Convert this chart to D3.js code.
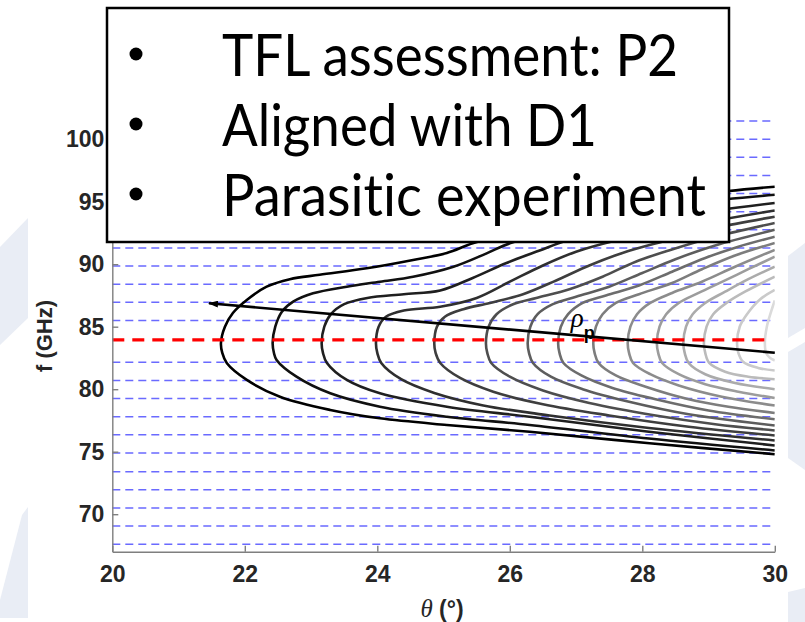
<!DOCTYPE html>
<html>
<head>
<meta charset="utf-8">
<script src="https://cdn.jsdelivr.net/npm/d3@7"></script>
<style>
  html, body { margin: 0; padding: 0; background: #fff; }
  svg { display: block; }
  text { font-variant-ligatures: none; font-feature-settings: "liga" 0; }
</style>
</head>
<body>
<script>
// frequencies of the blue dashed grid (GHz)
const gridFreqs = [67.6, 69.05, 70.5, 71.95, 73.4, 74.9, 76.35, 77.8, 79.25, 80.7, 82.15,
  85.5, 86.95, 88.4, 89.85, 91.3, 92.75, 94.2, 95.65, 97.1, 98.55, 100.0, 101.45];
// operating frequency (red dashed)
const opFreq = 83.95;
// rho_p direction, [theta, f] from start to arrow tip
const rhoLine = [[30, 82.92], [21.46, 86.87]];
const rhoLabel = [26.92, 84.98];

const xTicks = [20, 22, 24, 26, 28, 30];
const yTicks = [70, 75, 80, 85, 90, 95, 100];
const bullets = ["TFL assessment: P2", "Aligned with D1", "Parasitic experiment"];

// contour lines, upper branch (starting at the nose) and lower branch, [theta, f]
const contourUpper = [
  [[21.64,83.7],[21.7,85.0],[21.82,86.1],[22.03,87.14],[22.33,88.2],[22.68,88.8],[23.13,89.15],[23.84,89.67],[24.54,90.34],[25.05,90.9],[25.44,91.67],[26.2,92.8],[27.2,94.0],[28.3,95.1],[29.3,95.85],[30,96.2]],
  [[22.42,83.7],[22.46,85.0],[22.56,86.2],[22.73,87.0],[23.03,87.67],[23.54,88.2],[24.04,88.6],[24.54,89.0],[25.15,89.8],[25.65,90.87],[26.0,91.67],[26.8,92.8],[27.8,93.9],[28.8,94.9],[30,95.55]],
  [[23.16,83.7],[23.2,85.0],[23.3,86.0],[23.5,86.8],[23.85,87.3],[24.4,87.6],[24.95,87.9],[25.44,88.9],[25.95,90.1],[26.45,91.1],[26.86,91.9],[27.6,92.9],[28.6,93.9],[30,94.9]],
  [[23.98,83.7],[24.02,85.0],[24.13,85.8],[24.4,86.3],[24.95,86.6],[25.5,87.3],[26.0,88.6],[26.5,89.9],[27.0,91.0],[27.6,91.9],[28.5,92.9],[30,94.3]],
  [[24.86,83.7],[24.9,85.0],[25.02,85.8],[25.3,86.4],[25.7,86.9],[26.2,87.6],[26.7,88.7],[27.2,89.9],[27.7,90.9],[28.3,91.8],[29.1,92.9],[30,93.8]],
  [[25.64,83.7],[25.68,85.0],[25.8,86.0],[26.05,86.8],[26.4,87.3],[26.9,88.0],[27.4,89.0],[27.9,90.2],[28.4,91.1],[29.1,92.2],[30,93.3]],
  [[26.27,83.7],[26.31,85.0],[26.42,86.0],[26.65,86.8],[27.0,87.4],[27.5,88.2],[28.0,89.3],[28.5,90.4],[29.1,91.5],[30,92.75]],
  [[26.73,83.7],[26.77,85.0],[26.88,86.0],[27.1,86.9],[27.45,87.5],[27.95,88.3],[28.45,89.4],[28.95,90.5],[29.45,91.4],[30,92.2]],
  [[27.26,83.7],[27.3,85.0],[27.4,86.0],[27.6,86.9],[27.95,87.6],[28.45,88.5],[28.9,89.6],[29.4,90.7],[30,91.7]],
  [[27.78,83.7],[27.82,85.0],[27.92,86.0],[28.12,86.9],[28.45,87.7],[28.9,88.6],[29.4,89.8],[30,91.15]],
  [[28.22,83.7],[28.26,85.0],[28.36,86.0],[28.55,86.9],[28.85,87.7],[29.25,88.7],[29.6,89.6],[30,90.6]],
  [[28.62,83.7],[28.66,85.0],[28.76,86.0],[28.95,86.9],[29.25,87.8],[29.6,88.8],[30,89.8]],
  [[28.93,83.7],[28.97,85.0],[29.07,86.0],[29.27,86.9],[29.55,87.8],[30,89.0]],
  [[29.43,83.7],[29.47,85.0],[29.58,86.0],[29.78,87.2],[30,87.95]],
  [[29.85,83.7],[29.88,85.0],[29.95,86.3],[30,87.1]]
];
const contourLower = [
  [[21.66,82.9],[21.73,82.07],[22.03,80.74],[22.53,79.4],[23.29,78.34],[24.04,77.67],[25.05,77.14],[26.3,76.6],[28.11,75.67],[30,74.8]],
  [[22.44,82.9],[22.48,82.34],[22.78,81.0],[23.29,79.67],[24.04,78.6],[25.05,77.8],[26.3,77.14],[28.1,76.05],[30,75.1]],
  [[23.18,82.9],[23.24,82.1],[23.54,80.74],[24.04,79.67],[25.05,78.6],[26.3,77.8],[28.1,76.6],[30,75.5]],
  [[24.0,82.9],[24.06,82.1],[24.36,80.8],[24.86,79.7],[25.6,78.7],[26.6,77.9],[28.1,76.9],[30,75.9]],
  [[24.88,82.9],[24.95,82.1],[25.25,80.9],[25.75,79.8],[26.5,78.8],[27.5,77.9],[28.7,77.0],[30,76.3]],
  [[25.66,82.9],[25.72,82.1],[26.0,81.0],[26.5,79.9],[27.2,78.9],[28.2,77.9],[29.1,77.2],[30,76.7]],
  [[26.29,82.9],[26.35,82.1],[26.62,81.0],[27.1,80.0],[27.8,79.0],[28.7,78.0],[30,77.1]],
  [[26.75,82.9],[26.81,82.1],[27.08,81.1],[27.55,80.1],[28.2,79.2],[29.0,78.3],[30,77.6]],
  [[27.28,82.9],[27.34,82.1],[27.6,81.1],[28.05,80.2],[28.7,79.2],[29.3,78.6],[30,78.1]],
  [[27.8,82.9],[27.86,82.1],[28.12,81.2],[28.55,80.3],[29.2,79.4],[30,78.7]],
  [[28.24,82.9],[28.3,82.1],[28.55,81.2],[28.95,80.4],[29.45,79.8],[30,79.3]],
  [[28.64,82.9],[28.7,82.1],[28.95,81.2],[29.4,80.5],[30,80.0]],
  [[28.95,82.9],[29.01,82.1],[29.25,81.4],[29.6,81.0],[30,80.8]],
  [[29.45,82.9],[29.52,82.2],[29.75,81.7],[30,81.5]],
  [[29.87,82.9],[29.93,82.5],[30,82.3]]
];

const W = 805, H = 622;

const svg = d3.select("body")
    .append("svg")
    .attr("width", W)
    .attr("height", H);

const x = d3.scaleLinear().domain([20, 30]).range([112.3, 774.8]);
const y = d3.scaleLinear().domain([67, 102]).range([551.7, 114.2]);

// faint slide watermark at the edges
const wm = [
  [[0, 247], [28, 218], [28, 318], [0, 345]],
  [[22, 515], [28, 507], [28, 618], [0, 618], [0, 600]],
  [[788, 256], [805, 243], [805, 328], [788, 338]],
  [[788, 352], [805, 342], [805, 470], [788, 458]],
  [[788, 592], [805, 588], [805, 622], [788, 622]]
];
svg.append("g").selectAll("polygon")
    .data(wm)
    .join("polygon")
    .attr("points", d => d.join(" "))
    .attr("fill", "#e9edf5");

const defs = svg.append("defs");
defs.append("clipPath").attr("id", "plot")
    .append("rect")
    .attr("x", x(20)).attr("y", y(102))
    .attr("width", x(30) - x(20)).attr("height", y(67) - y(102));

defs.append("marker")
    .attr("id", "arrow")
    .attr("markerUnits", "userSpaceOnUse")
    .attr("viewBox", "0 0 10 7")
    .attr("markerWidth", 10)
    .attr("markerHeight", 7)
    .attr("refX", 9)
    .attr("refY", 3.5)
    .attr("orient", "auto")
    .append("path")
    .attr("d", "M0,0 L10,3.5 L0,7 z")
    .attr("fill", "#000");

// blue dashed grid lines
svg.append("g").selectAll("line")
    .data(gridFreqs)
    .join("line")
    .attr("x1", x(20))
    .attr("x2", x(30))
    .attr("y1", d => y(d))
    .attr("y2", d => y(d))
    .attr("stroke", "#6a6aff")
    .attr("stroke-width", 1.5)
    .attr("stroke-dasharray", "8,5");

// contour curves, lightest first so the black one ends on top
const gray = d3.scaleLinear()
    .domain([0, contourUpper.length - 1])
    .range(["#000000", "#dadada"]);

const lineFunction = d3.line()
    .x(d => x(d[0]))
    .y(d => y(d[1]))
    .curve(d3.curveCatmullRom.alpha(0.5));

const cg = svg.append("g").attr("clip-path", "url(#plot)");
for (let i = contourUpper.length - 1; i >= 0; i--) {
    const pts = contourUpper[i].slice().reverse().concat(contourLower[i]);
    cg.append("path")
        .attr("d", lineFunction(pts))
        .attr("fill", "none")
        .attr("stroke", gray(i))
        .attr("stroke-width", 2.6);
}

// operating frequency
svg.append("line")
    .attr("x1", x(20))
    .attr("x2", x(29.88))
    .attr("y1", y(opFreq))
    .attr("y2", y(opFreq))
    .attr("stroke", "#ff0000")
    .attr("stroke-width", 3.2)
    .attr("stroke-dasharray", "12,8");

// rho_p arrow
svg.append("line")
    .attr("x1", x(rhoLine[0][0]))
    .attr("y1", y(rhoLine[0][1]))
    .attr("x2", x(rhoLine[1][0]))
    .attr("y2", y(rhoLine[1][1]))
    .attr("stroke", "#000")
    .attr("stroke-width", 2.6)
    .attr("marker-end", "url(#arrow)");

const rl = svg.append("text")
    .attr("x", x(rhoLabel[0]))
    .attr("y", y(rhoLabel[1]));
rl.append("tspan")
    .attr("font-family", "Liberation Serif")
    .attr("font-style", "italic")
    .attr("font-size", 27)
    .text("ρ");
rl.append("tspan")
    .attr("font-family", "Liberation Sans")
    .attr("font-weight", "bold")
    .attr("font-size", 18)
    .attr("dy", 12)
    .attr("dx", 0)
    .text("p");

// axes
const axisColor = "#7f7f7f";

const yAxis = svg.append("g")
    .attr("transform", `translate(${x(20)},0)`)
    .call(d3.axisLeft(y).tickValues(yTicks).tickSize(-6).tickSizeOuter(0).tickPadding(8));

const xAxis = svg.append("g")
    .attr("transform", `translate(0,${y(67)})`)
    .call(d3.axisBottom(x).tickValues(xTicks).tickSize(-6).tickSizeOuter(0).tickPadding(14));

for (let a of [xAxis, yAxis]) {
    a.select(".domain").attr("stroke", axisColor).attr("stroke-width", 1.4);
    a.selectAll(".tick line").attr("stroke", axisColor).attr("stroke-width", 1.4);
    a.selectAll(".tick text")
        .attr("fill", "#262626")
        .attr("font-family", "Liberation Sans, Arial, sans-serif")
        .attr("font-weight", "bold")
        .attr("font-size", 23);
}

svg.append("text")
    .attr("transform", "translate(52,336) rotate(-90)")
    .attr("text-anchor", "middle")
    .attr("fill", "#262626")
    .attr("font-family", "Liberation Sans, Arial, sans-serif")
    .attr("font-weight", "bold")
    .attr("font-size", 22)
    .text("f (GHz)");

const xt = svg.append("text")
    .attr("x", 442)
    .attr("y", 617)
    .attr("text-anchor", "middle")
    .attr("fill", "#262626")
    .attr("font-size", 23);
xt.append("tspan")
    .attr("font-family", "Liberation Serif")
    .attr("font-style", "italic")
    .attr("font-size", 25)
    .text("θ");
xt.append("tspan")
    .attr("font-family", "Liberation Sans, Arial, sans-serif")
    .attr("font-weight", "bold")
    .text(" (°)");

// bullet box on top of the plot
svg.append("rect")
    .attr("x", 107)
    .attr("y", 8)
    .attr("width", 622)
    .attr("height", 234)
    .attr("fill", "#fff")
    .attr("stroke", "#000")
    .attr("stroke-width", 2.5);

const textLen = [456, 375, 484];
const baseY = [76, 146, 216];

bullets.forEach((b, i) => {
    svg.append("circle")
        .attr("cx", 136)
        .attr("cy", baseY[i] - 22)
        .attr("r", 6.5)
        .attr("fill", "#000");
    svg.append("text")
        .attr("x", 222)
        .attr("y", baseY[i])
        .attr("font-family", "Lato, 'Open Sans', sans-serif")
        .attr("font-size", 58)
        .attr("fill", "#000")
        .attr("textLength", textLen[i])
        .attr("lengthAdjust", "spacingAndGlyphs")
        .text(b);
});
</script>
</body>
</html>
